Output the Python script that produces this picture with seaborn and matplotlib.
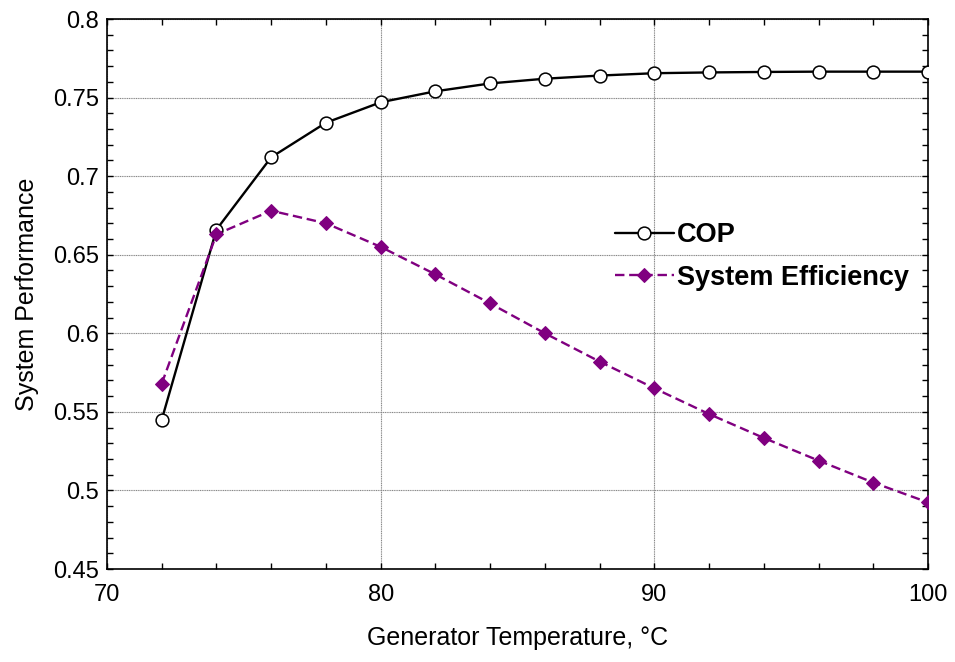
import numpy as np
import pandas as pd
import seaborn as sns
from matplotlib import pyplot as plt
from matplotlib.ticker import MultipleLocator

temperature = [72, 74, 76, 78, 80, 82, 84, 86, 88, 90, 92, 94, 96, 98, 100]
cop = [0.545, 0.666, 0.712, 0.734, 0.747, 0.754, 0.759, 0.762, 0.764, 0.7655,
       0.766, 0.7663, 0.7665, 0.7665, 0.7665]
system_efficiency = [0.568, 0.663, 0.678, 0.670, 0.655, 0.6375, 0.619, 0.600,
                     0.582, 0.565, 0.5486, 0.5334, 0.519, 0.505, 0.4924]

if __name__ == '__main__':
    sns.set_style("ticks")
    plt.rcParams['font.family'] = ['Liberation Sans', 'DejaVu Sans']
    for key in ["text.color", "axes.labelcolor", "xtick.color", "ytick.color"]:
        plt.rcParams[key] = "black"

    data = pd.DataFrame(data={"temp": temperature, "cop": cop, "eff": system_efficiency})

    fig = plt.figure(figsize=(9.55, 6.62), dpi=100)
    ax = fig.add_axes([107 / 955, 1 - 569 / 662, 821 / 955, 550 / 662])

    sns.lineplot(data=data, x="temp", y="cop", ax=ax, color="black", linewidth=1.7,
                 marker="o", markersize=9.2, markerfacecolor="white",
                 markeredgecolor="black", markeredgewidth=1.1, label="COP", zorder=3)
    sns.lineplot(data=data, x="temp", y="eff", ax=ax, color="#800080", linewidth=1.7,
                 linestyle=(0, (4, 2)), marker="D", markersize=7.2,
                 markerfacecolor="#800080", markeredgecolor="#800080",
                 label="System Efficiency", zorder=3)

    ax.set_xlim(70, 100)
    ax.set_ylim(0.45, 0.8)
    ax.set_xticks([70, 80, 90, 100])
    ax.set_xticklabels(["70", "80", "90", "100"])
    ax.set_yticks([0.45, 0.5, 0.55, 0.6, 0.65, 0.7, 0.75, 0.8])
    ax.set_yticklabels(["0.45", "0.5", "0.55", "0.6", "0.65", "0.7", "0.75", "0.8"])
    ax.xaxis.set_minor_locator(MultipleLocator(2))
    ax.yaxis.set_minor_locator(MultipleLocator(0.01))
    ax.tick_params(which="both", direction="in", top=True, right=True,
                   length=4, width=1, labelsize=17, colors="black")
    ax.tick_params(axis="x", which="both", pad=11)
    ax.tick_params(axis="y", which="both", pad=6)
    ax.grid(True, which="major", color="#888888", linestyle=(0, (1, 0.6)), linewidth=0.8)
    for s in ax.spines.values():
        s.set_linewidth(1.2)
        s.set_color("black")

    ax.set_xlabel("Generator Temperature, °C", fontsize=18, labelpad=14)
    ax.set_ylabel("System Performance", fontsize=18, labelpad=10)

    leg = ax.legend(loc="center left", bbox_to_anchor=(0.605, 0.568), frameon=False,
                    prop={"weight": "bold", "size": 19.5}, handlelength=2.2,
                    handletextpad=0.1, labelspacing=0.6, borderaxespad=0)
    for t in leg.get_texts():
        t.set_color("black")

    plt.savefig("out.png", dpi=100)
